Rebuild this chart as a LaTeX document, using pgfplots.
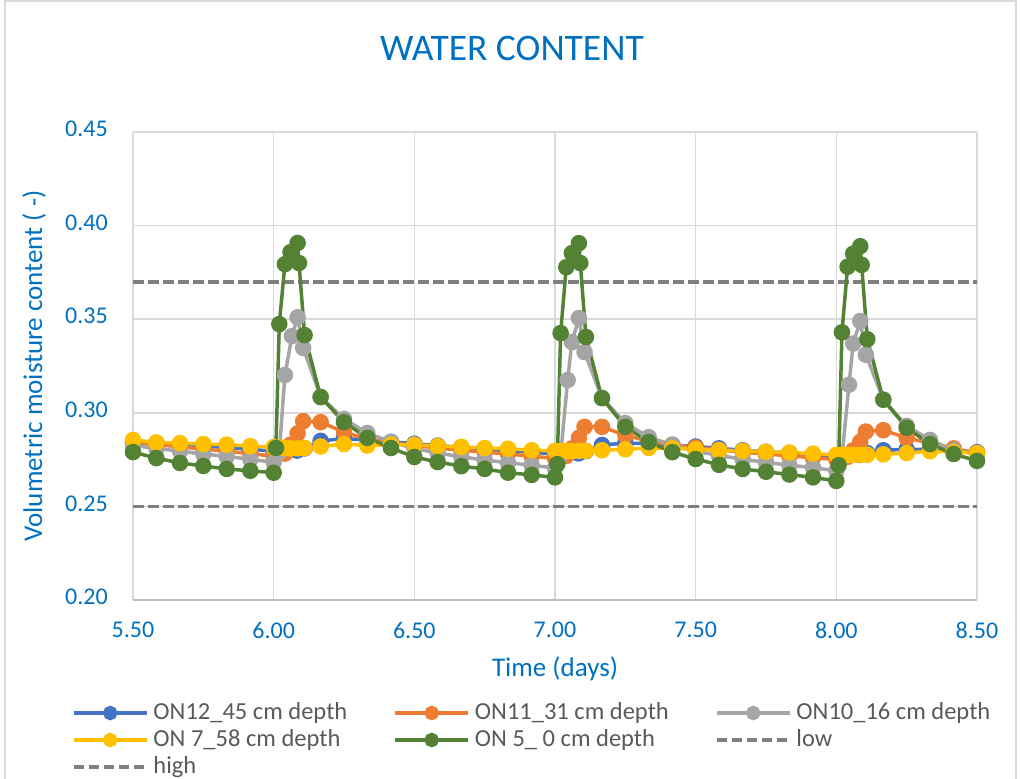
\documentclass[border=0pt]{standalone}
\usepackage{fontspec}
\setmainfont{Carlito}
\usepackage{pgfplots}
\pgfplotsset{compat=1.18}
\definecolor{cblue}{HTML}{4472C4}
\definecolor{corange}{HTML}{ED7D31}
\definecolor{cgray}{HTML}{A5A5A5}
\definecolor{cyellow}{HTML}{FFC000}
\definecolor{cgreen}{HTML}{548235}
\definecolor{cdash}{HTML}{7F7F7F}
\definecolor{cgrid}{HTML}{D9D9D9}
\definecolor{caxis}{HTML}{BFBFBF}
\definecolor{ctext}{HTML}{0070C0}
\definecolor{clegend}{HTML}{595959}

\begin{document}
\begin{tikzpicture}
\path[use as bounding box] (0,0) rectangle (1020bp,779bp);
\draw[cgrid, line width=1.5bp] (5bp,0) -- (5bp,778bp) -- (1016bp,778bp) -- (1016bp,0);
\begin{axis}[
    at={(133bp,179bp)}, anchor=south west,
    scale only axis, width=844bp, height=468bp,
    xmin=5.5, xmax=8.5, ymin=0.2, ymax=0.45,
    xtick={5.5,6,6.5,7,7.5,8,8.5},
    ytick={0.2,0.25,0.3,0.35,0.4,0.45},
    clip=false,
    axis line style={draw=none},
    major tick length=0pt,
    grid=major,
    major grid style={draw=cgrid, line width=1.5bp},
    extra y ticks={0.2}, extra y tick labels={},
    extra y tick style={grid=major, major grid style={draw=caxis, line width=1.5bp}},
    tick label style={font=\fontsize{24bp}{28bp}\selectfont, text=ctext},
    /pgf/number format/.cd, fixed, fixed zerofill, precision=2, assume math mode=true,
    /pgfplots/.cd,
    xticklabel style={anchor=center, inner sep=0pt, yshift=-30bp},
    yticklabel style={anchor=east, inner sep=0pt, xshift=-25bp, yshift=3bp},
    title={WATER CONTENT},
    title style={at={(axis description cs:0.449,1.1667)}, anchor=center, inner sep=0pt,
        font=\fontsize{37.5bp}{42bp}\selectfont, text=ctext},
    xlabel={Time (days)},
    xlabel style={at={(axis description cs:0.5,-0.1645)}, anchor=base, inner sep=0pt,
        font=\fontsize{27bp}{31bp}\selectfont, text=ctext},
    ylabel={Volumetric moisture content ( -)},
    ylabel style={at={(axis description cs:-0.1078,0.5)}, anchor=base, inner sep=0pt,
        font=\fontsize{27bp}{31bp}\selectfont, text=ctext},
    legend columns=3,
    legend cell align=left,
    legend style={at={(axis description cs:-0.0723,-0.2180)}, anchor=north west,
        draw=none, fill=none, inner sep=0pt, outer sep=0pt,
        font=\fontsize{24.5bp}{28bp}\selectfont, text=clegend, row sep=5bp,
        nodes={inner sep=0pt, text height=17bp, text depth=5bp},
        /tikz/every odd column/.append style={column sep=5bp}},
    legend image code/.code={\draw[mark repeat=2, mark phase=2, #1, mark size=5.5bp]
        plot coordinates {(0bp,0bp) (36.5bp,0bp) (73bp,0bp)};},
]
% thresholds, drawn below the series
\addplot[forget plot, cdash, line width=3.5bp, dash pattern=on 10.5bp off 4.5bp]
    coordinates {(5.5,0.25) (8.5,0.25)};
\addplot[forget plot, cdash, line width=3.5bp, dash pattern=on 10.5bp off 4.5bp]
    coordinates {(5.5,0.37) (8.5,0.37)};

% ON12 - 45 cm
\addplot[cblue, line width=3.5bp, mark=*, mark size=6.5bp] coordinates {
(5.5,0.2845)(5.583,0.2838)(5.667,0.2830)(5.75,0.2823)(5.833,0.2815)(5.917,0.2805)
(6.0,0.2795)(6.04,0.2793)(6.083,0.2798)(6.11,0.2810)(6.167,0.2850)(6.25,0.2862)
(6.333,0.2855)(6.417,0.2845)(6.5,0.2835)(6.583,0.2825)(6.667,0.2815)(6.75,0.2807)
(6.833,0.2798)(6.917,0.2790)(7.0,0.2780)(7.04,0.2778)(7.083,0.2783)(7.11,0.2795)
(7.167,0.2828)(7.25,0.2838)(7.333,0.2835)(7.417,0.2828)(7.5,0.2820)(7.583,0.2810)
(7.667,0.2800)(7.75,0.2792)(7.833,0.2785)(7.917,0.2777)(8.0,0.2768)(8.04,0.2768)
(8.083,0.2775)(8.11,0.2785)(8.167,0.2800)(8.25,0.2805)(8.333,0.2805)(8.417,0.2798)
(8.5,0.2790)};
\addlegendentry{\makebox[240bp][l]{ON12\_45 cm depth}}

% ON11 - 31 cm
\addplot[corange, line width=3.5bp, mark=*, mark size=6.5bp] coordinates {
(5.5,0.2840)(5.583,0.2830)(5.667,0.2818)(5.75,0.2806)(5.833,0.2795)(5.917,0.2782)
(6.0,0.2768)(6.04,0.2782)(6.06,0.2830)(6.085,0.2890)(6.105,0.2955)(6.167,0.2950)
(6.25,0.2897)(6.333,0.2860)(6.417,0.2840)(6.5,0.2825)(6.583,0.2812)(6.667,0.2800)
(6.75,0.2790)(6.833,0.2780)(6.917,0.2768)(7.0,0.2757)(7.04,0.2770)(7.06,0.2810)
(7.085,0.2866)(7.105,0.2925)(7.167,0.2925)(7.25,0.2880)(7.333,0.2848)(7.417,0.2830)
(7.5,0.2815)(7.583,0.2802)(7.667,0.2790)(7.75,0.2780)(7.833,0.2770)(7.917,0.2760)
(8.0,0.2750)(8.04,0.2765)(8.06,0.2800)(8.085,0.2845)(8.105,0.2900)(8.167,0.2907)
(8.25,0.2866)(8.333,0.2838)(8.417,0.2810)(8.5,0.2785)};
\addlegendentry{\makebox[240bp][l]{ON11\_31 cm depth}}

% ON10 - 16 cm
\addplot[cgray, line width=3.5bp, mark=*, mark size=6.5bp] coordinates {
(5.5,0.2825)(5.583,0.2810)(5.667,0.2795)(5.75,0.2780)(5.833,0.2767)(5.917,0.2752)
(6.0,0.2735)(6.02,0.2790)(6.04,0.3202)(6.065,0.3410)(6.085,0.3510)(6.105,0.3346)
(6.167,0.3085)(6.25,0.2967)(6.333,0.2892)(6.417,0.2844)(6.5,0.2810)(6.583,0.2785)
(6.667,0.2765)(6.75,0.2748)(6.833,0.2733)(6.917,0.2720)(7.0,0.2705)(7.02,0.2775)
(7.045,0.3175)(7.06,0.3378)(7.085,0.3506)(7.105,0.3324)(7.167,0.3080)(7.25,0.2945)
(7.333,0.2870)(7.417,0.2828)(7.5,0.2795)(7.583,0.2772)(7.667,0.2752)(7.75,0.2735)
(7.833,0.2720)(7.917,0.2707)(8.0,0.2690)(8.02,0.2765)(8.045,0.3150)(8.06,0.3370)
(8.085,0.3490)(8.105,0.3310)(8.167,0.3070)(8.25,0.2930)(8.333,0.2855)(8.417,0.2800)
(8.5,0.2780)};
\addlegendentry{ON10\_16 cm depth}

% ON 7 - 58 cm
\addplot[cyellow, line width=3.5bp, mark=*, mark size=6.5bp] coordinates {
(5.5,0.2855)(5.583,0.2842)(5.667,0.2838)(5.75,0.2833)(5.833,0.2830)(5.917,0.2822)
(6.0,0.2817)(6.02,0.2815)(6.04,0.2812)(6.06,0.2810)(6.085,0.2810)(6.11,0.2812)
(6.167,0.2820)(6.25,0.2833)(6.333,0.2825)(6.417,0.2830)(6.5,0.2830)(6.583,0.2822)
(6.667,0.2818)(6.75,0.2812)(6.833,0.2808)(6.917,0.2800)(7.0,0.2797)(7.02,0.2795)
(7.04,0.2795)(7.06,0.2795)(7.085,0.2797)(7.11,0.2797)(7.167,0.2800)(7.25,0.2805)
(7.333,0.2812)(7.417,0.2810)(7.5,0.2805)(7.583,0.2800)(7.667,0.2797)(7.75,0.2792)
(7.833,0.2788)(7.917,0.2782)(8.0,0.2775)(8.02,0.2775)(8.04,0.2775)(8.06,0.2775)
(8.085,0.2775)(8.11,0.2776)(8.167,0.2778)(8.25,0.2785)(8.333,0.2795)(8.417,0.2790)
(8.5,0.2785)};
\addlegendentry{\makebox[240bp][l]{ON 7\_58 cm depth}}

% ON 5 - 0 cm
\addplot[cgreen, line width=3.5bp, mark=*, mark size=6.5bp] coordinates {
(5.5,0.2790)(5.583,0.2758)(5.667,0.2732)(5.75,0.2716)(5.833,0.2700)(5.917,0.2690)
(6.0,0.2680)(6.008,0.2812)(6.02,0.3474)(6.04,0.3794)(6.06,0.3858)(6.085,0.3907)
(6.09,0.3800)(6.11,0.3415)(6.167,0.3084)(6.25,0.2950)(6.333,0.2866)(6.417,0.2812)
(6.5,0.2764)(6.583,0.2737)(6.667,0.2715)(6.75,0.2700)(6.833,0.2680)(6.917,0.2668)
(7.0,0.2655)(7.008,0.2726)(7.02,0.3426)(7.04,0.3778)(7.06,0.3853)(7.085,0.3906)
(7.09,0.3800)(7.11,0.3405)(7.167,0.3078)(7.25,0.2925)(7.333,0.2844)(7.417,0.2790)
(7.5,0.2753)(7.583,0.2722)(7.667,0.2700)(7.75,0.2685)(7.833,0.2670)(7.917,0.2655)
(8.0,0.2636)(8.008,0.2720)(8.02,0.3430)(8.04,0.3780)(8.06,0.3850)(8.085,0.3890)
(8.09,0.3790)(8.11,0.3393)(8.167,0.3070)(8.25,0.2920)(8.333,0.2833)(8.417,0.2780)
(8.5,0.2743)};
\addlegendentry{\makebox[240bp][l]{ON 5\_ 0 cm depth}}

\addlegendimage{cdash, line width=3.5bp, dash pattern=on 10.5bp off 4.5bp}
\addlegendentry{low}
\addlegendimage{cdash, line width=3.5bp, dash pattern=on 10.5bp off 4.5bp}
\addlegendentry{high}
\end{axis}
\end{tikzpicture}
\end{document}
